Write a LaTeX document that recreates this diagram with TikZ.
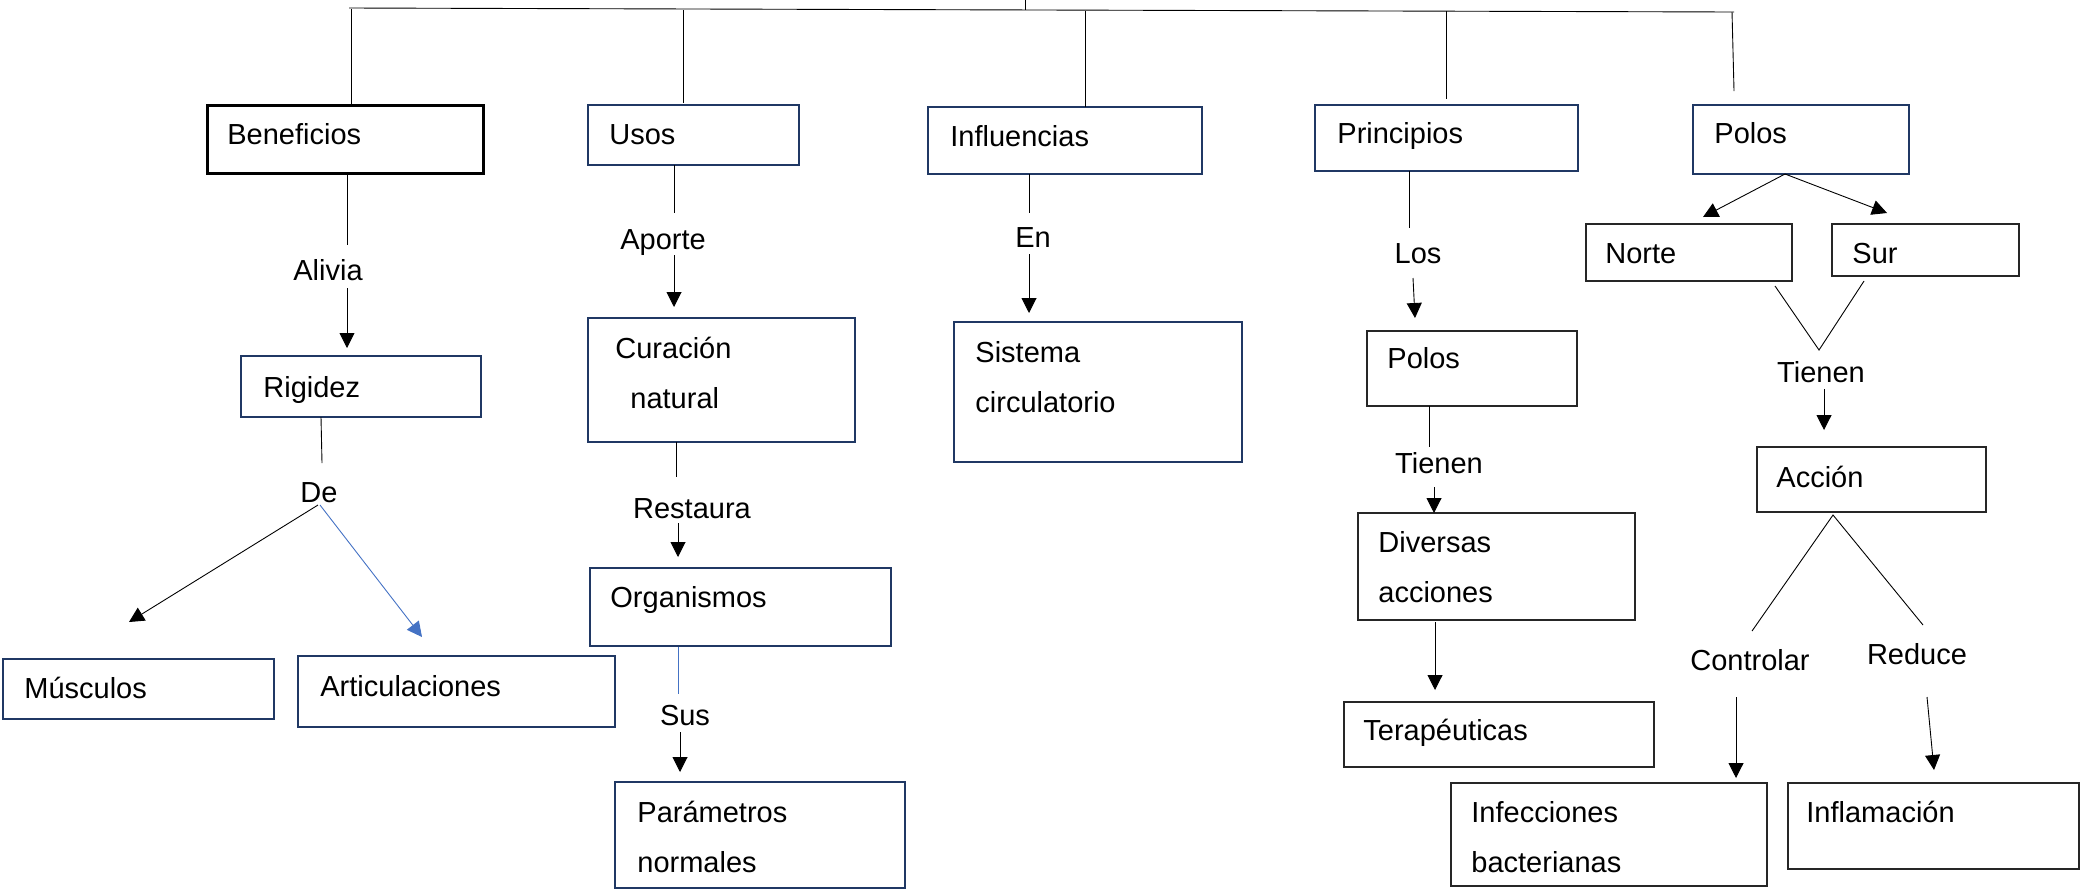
\documentclass[tikz,border=0pt]{standalone}
\usepackage{fontspec}
\setmainfont{Liberation Sans}
\usetikzlibrary{arrows.meta}
\definecolor{navy}{HTML}{203864}
\definecolor{lblue}{HTML}{4472C4}
\newcommand\mybox[6]{\node[#6, inner sep=0pt, minimum width=(#4-#2)*0.5pt, minimum height=(#5-#3)*0.5pt] (#1) at ({(#2+#4)/2},{(#3+#5)/2}) {};}
\begin{document}
\begin{tikzpicture}[x=0.5pt,y=-0.5pt,
  every node/.style={font=\fontsize{14.5pt}{17pt}\selectfont},
  nbox/.style={draw=navy, line width=1.3pt},
  kbox/.style={draw=black, line width=1.5pt},
  tbox/.style={draw=black!85, line width=0.7pt},
  txt/.style={anchor=base west, inner sep=0pt},
  lbl/.style={anchor=base, inner sep=0pt},
  conn/.style={line width=0.45pt},
  arr/.style={conn, -{Triangle[length=7.5pt,width=7.5pt]}},
]
\useasboundingbox (0,0) rectangle (2080,890);

% boxes
\mybox{ben}{207}{105}{483}{173}{kbox}
\mybox{usos}{588}{105}{799}{165}{nbox}
\mybox{infl}{928}{107}{1202}{174}{nbox}
\mybox{prin}{1315}{105}{1578}{171}{nbox}
\mybox{polos}{1693}{105}{1909}{174}{nbox}
\mybox{rig}{241}{356}{481}{417}{nbox}
\mybox{cur}{588}{318}{855}{442}{nbox}
\mybox{sis}{954}{322}{1242}{462}{nbox}
\mybox{polosb}{1367}{331}{1577}{406}{tbox}
\mybox{norte}{1586}{224}{1792}{281}{tbox}
\mybox{sur}{1832}{224}{2019}{276}{tbox}
\mybox{acc}{1757}{447}{1986}{512}{tbox}
\mybox{mus}{3}{659}{274}{719}{nbox}
\mybox{art}{298}{656}{615}{727}{nbox}
\mybox{org}{590}{568}{891}{646}{nbox}
\mybox{par}{615}{782}{905}{888}{nbox}
\mybox{div}{1358}{513}{1635}{620}{tbox}
\mybox{ter}{1344}{702}{1654}{767}{tbox}
\mybox{inf}{1451}{783}{1767}{886}{tbox}
\mybox{infla}{1788}{783}{2079}{869}{tbox}

% box texts
\node[txt] (ben-t) at (227,144) {Beneficios};
\node[txt] (usos-t) at (609,144) {Usos};
\node[txt] (infl-t) at (950,146) {Influencias};
\node[txt] (prin-t) at (1337,143) {Principios};
\node[txt] (polos-t) at (1714,143) {Polos};
\node[txt] (rig-t) at (263,397) {Rigidez};
\node[txt] (cur-t1) at (615,358) {Curación};
\node[txt] (cur-t2) at (630,408) {natural};
\node[txt] (sis-t1) at (975,362) {Sistema};
\node[txt] (sis-t2) at (975,412) {circulatorio};
\node[txt] (polosb-t) at (1387,368) {Polos};
\node[txt] (norte-t) at (1605,263) {Norte};
\node[txt] (sur-t) at (1852,263) {Sur};
\node[txt] (acc-t) at (1776,487) {Acción};
\node[txt] (mus-t) at (24,698) {Músculos};
\node[txt] (art-t) at (320,696) {Articulaciones};
\node[txt] (org-t) at (610,607) {Organismos};
\node[txt] (par-t1) at (637,822) {Parámetros};
\node[txt] (par-t2) at (637,872) {normales};
\node[txt] (div-t1) at (1378,552) {Diversas};
\node[txt] (div-t2) at (1378,602) {acciones};
\node[txt] (ter-t) at (1363,740) {Terapéuticas};
\node[txt] (inf-t1) at (1471,822) {Infecciones};
\node[txt] (inf-t2) at (1471,872) {bacterianas};
\node[txt] (infla-t) at (1806,822) {Inflamación};

% connector labels
\node[lbl] (alivia) at (328,280) {Alivia};
\node[lbl] (aporte) at (663,249) {Aporte};
\node[lbl] (en) at (1033,247) {En};
\node[lbl] (los) at (1418,263) {Los};
\node[lbl] (tienenA) at (1821,382) {Tienen};
\node[lbl] (de) at (319,502) {De};
\node[lbl] (restaura) at (692,518) {Restaura};
\node[lbl] (sus) at (685,725) {Sus};
\node[lbl] (tienenB) at (1439,473) {Tienen};
\node[lbl] (controlar) at (1750,670) {Controlar};
\node[lbl] (reduce) at (1917,664) {Reduce};

% top bracket
\coordinate (topL) at (349,8);
\coordinate (topR) at (1734,12);
\coordinate (stub) at (1025,0);
\draw[conn] (topL) -- (topR);
\draw[conn] (stub) -- (1025,10);
\draw[conn] (351,9) -- (351,105);
\draw[conn] (683,10) -- (683,103);
\draw[conn] (1085,11) -- (1085,107);
\draw[conn] (1446,11) -- (1446,99);
\draw[conn] (1732,12) -- (1734,91);

% Beneficios branch
\draw[conn] (347,173) -- (347,245);
\draw[arr] (347,288) -- (347,348);
\draw[conn] (321,417) -- (322,463);
\draw[arr] (318,505) -- (129,622);
\draw[conn, lblue, -{Triangle[length=7.5pt,width=7.5pt]}] (320,505) -- (422,637);

% Usos branch
\draw[conn] (674,165) -- (674,213);
\draw[arr] (674,255) -- (674,307);
\draw[conn] (676,442) -- (676,477);
\draw[arr] (678,523) -- (678,557);
\draw[conn, lblue, line width=0.4pt] (678,647) -- (678,694);
\draw[arr] (680,732) -- (680,772);

% Influencias branch
\draw[conn] (1029,174) -- (1029,213);
\draw[arr] (1029,254) -- (1029,313);

% Principios branch
\draw[conn] (1409,171) -- (1409,228);
\draw[arr] (1413,278) -- (1415,318);
\draw[conn] (1429,406) -- (1429,447);
\draw[arr] (1434,487) -- (1434,513);
\draw[arr] (1435,622) -- (1435,690);

% Polos branch
\draw[arr] (1785,174) -- (1703,217);
\draw[arr] (1785,174) -- (1887,213);
\draw[conn] (1775,286) -- (1819,350) -- (1864,281);
\draw[arr] (1824,389) -- (1824,430);
\draw[conn] (1752,631) -- (1833,515) -- (1923,625);
\draw[arr] (1736,697) -- (1736,778);
\draw[arr] (1927,697) -- (1934,770);
\end{tikzpicture}
\end{document}
